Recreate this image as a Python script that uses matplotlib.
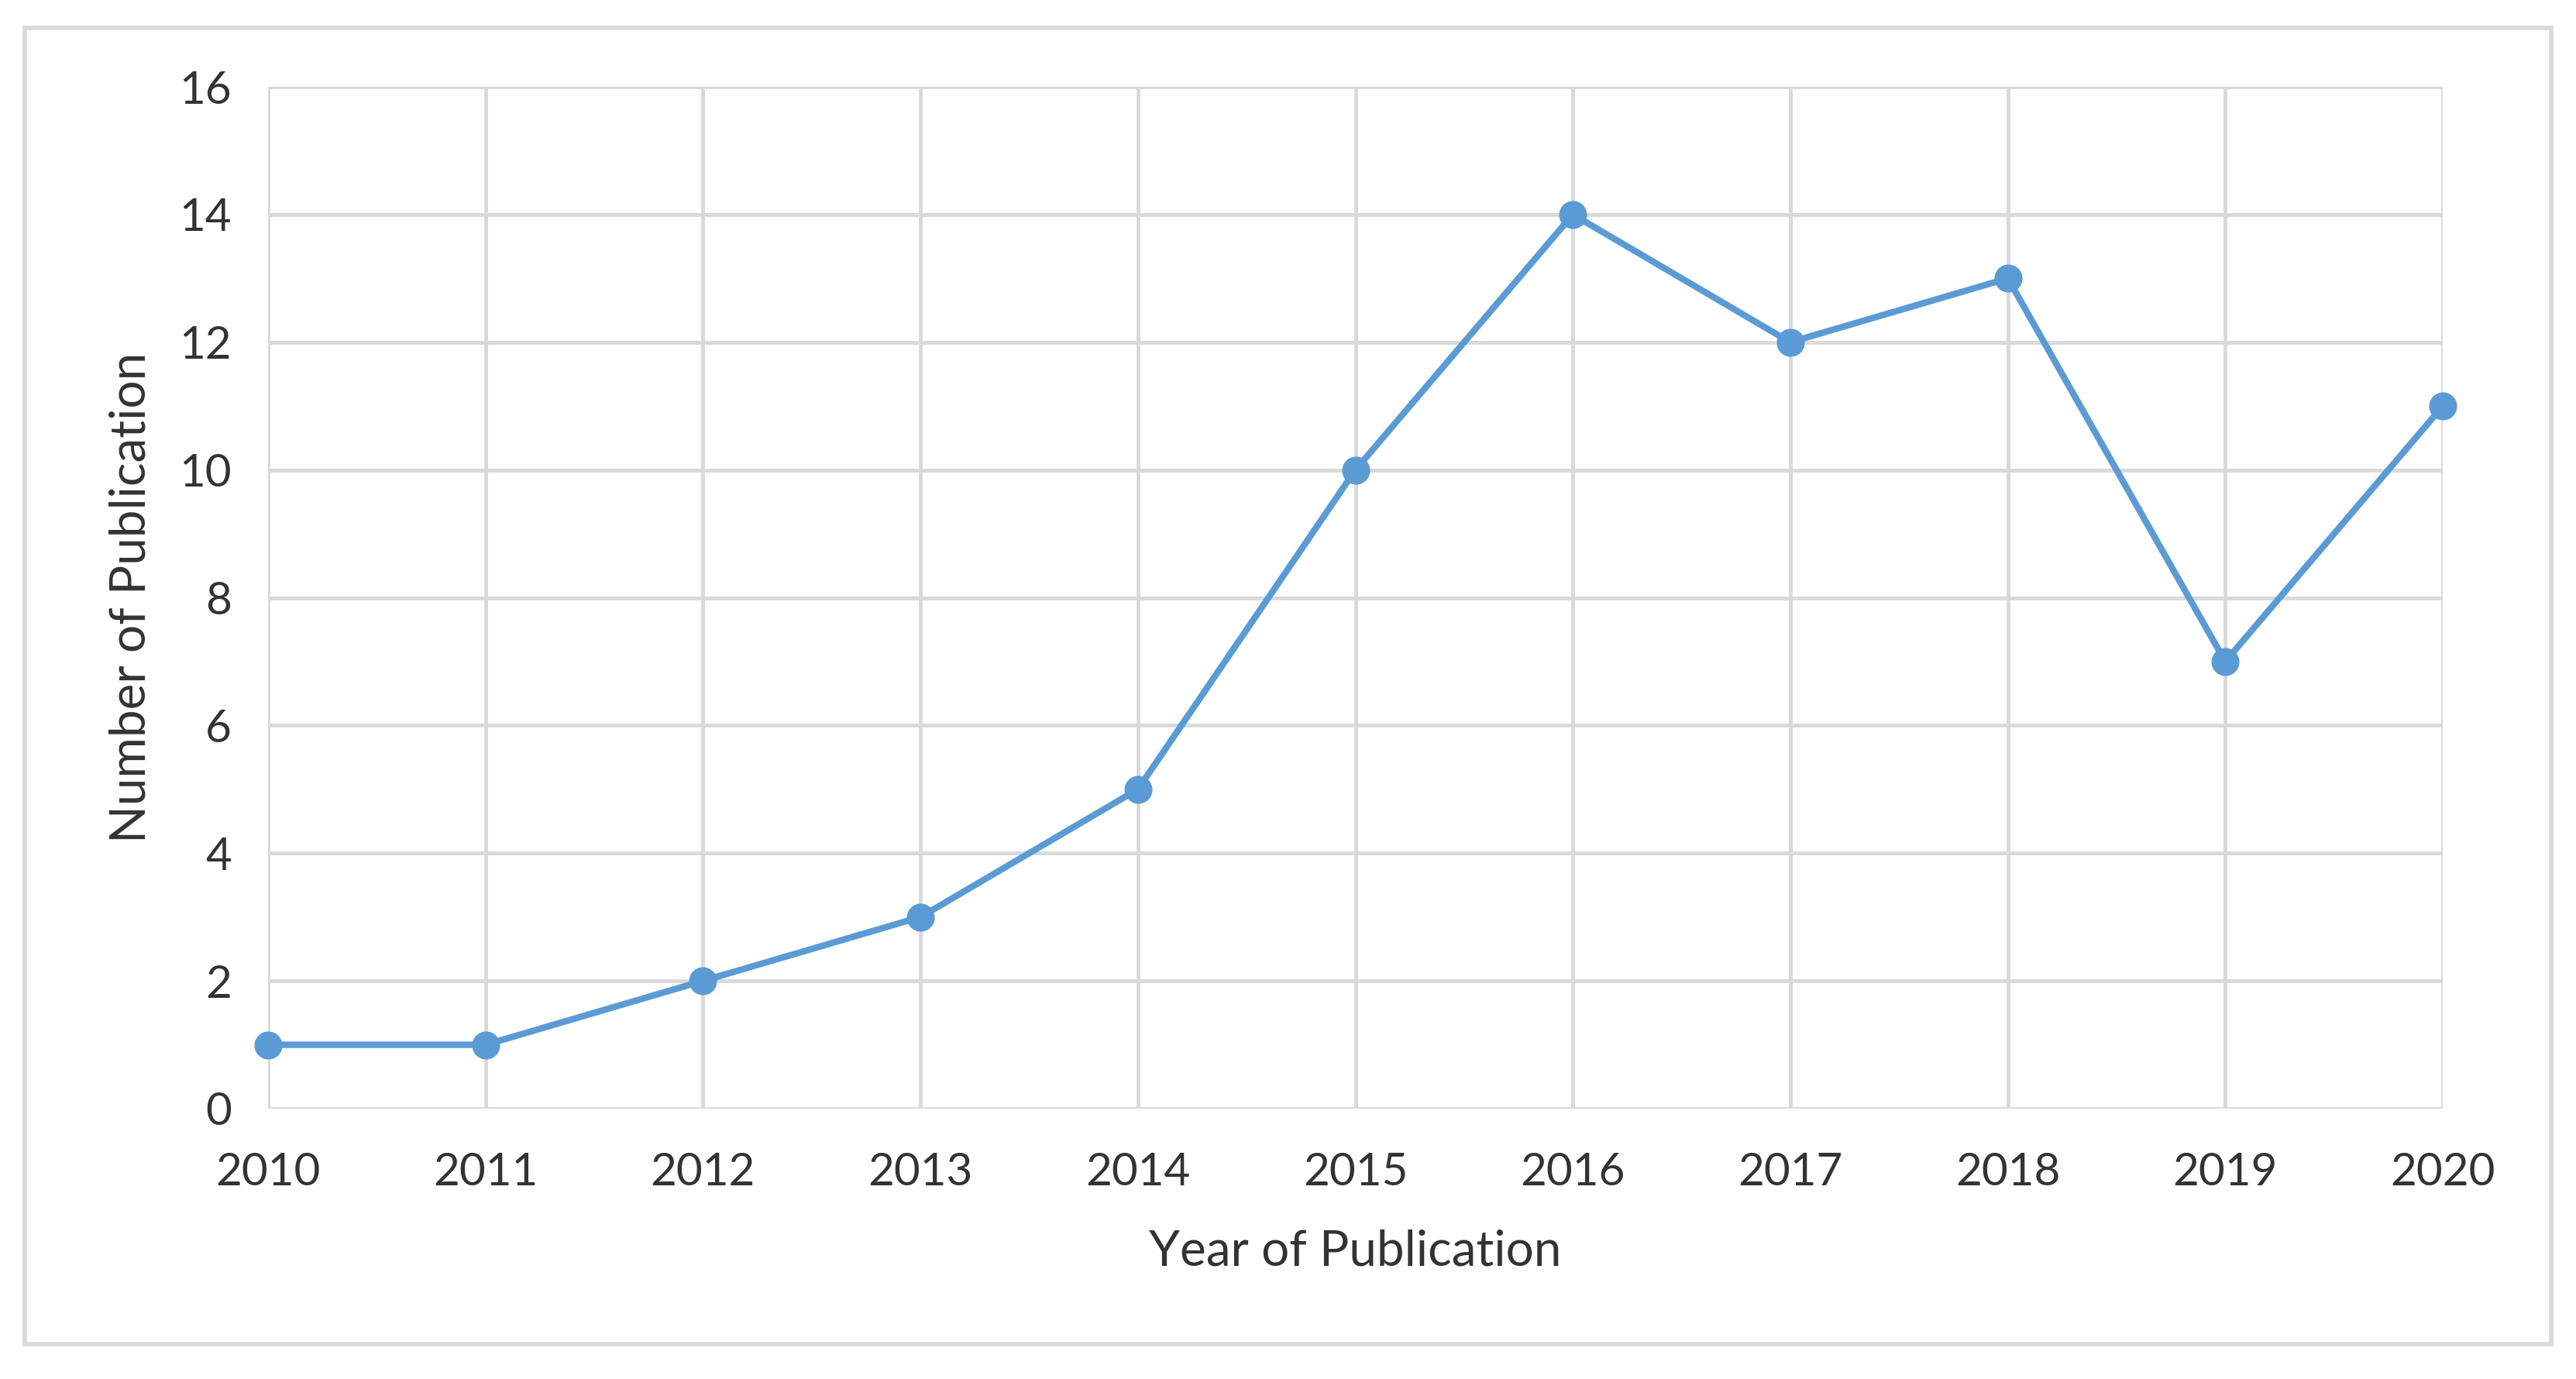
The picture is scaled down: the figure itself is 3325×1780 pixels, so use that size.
import matplotlib
matplotlib.use("Agg")
import matplotlib.pyplot as plt
from matplotlib.patches import Rectangle

# data
years = [2010, 2011, 2012, 2013, 2014, 2015, 2016, 2017, 2018, 2019, 2020]
publications = [1, 1, 2, 3, 5, 10, 14, 12, 13, 7, 11]
y_ticks = [0, 2, 4, 6, 8, 10, 12, 14, 16]

W, H = 3325, 1780
line_color = '#5B9BD5'
grid_color = '#D9D9D9'
text_color = '#333333'

plt.rcParams['font.family'] = ['Lato', 'DejaVu Sans']

fig = plt.figure(figsize=(W / 100, H / 100), dpi=100)
fig.patch.set_facecolor('white')

# outer chart border (Excel-style chart area)
fig.patches.append(Rectangle((32 / W, 1 - 1735 / H), (3293 - 32) / W, (1735 - 36) / H,
                             transform=fig.transFigure, fill=False,
                             edgecolor=grid_color, linewidth=4))

# plot area
left, right, top, bottom = 346, 3153, 112, 1431
ax = fig.add_axes([left / W, 1 - bottom / H, (right - left) / W, (bottom - top) / H])

ax.plot(years, publications, color=line_color, linewidth=6, marker='o',
        markersize=25, markerfacecolor=line_color, markeredgecolor=line_color,
        zorder=3, clip_on=False)

ax.set_xlim(years[0], years[-1])
ax.set_ylim(y_ticks[0], y_ticks[-1])
ax.set_xticks(years)
ax.set_yticks(y_ticks)

ax.grid(True, color=grid_color, linewidth=3.5)
ax.set_axisbelow(True)
for side in ['top', 'right', 'left', 'bottom']:
    ax.spines[side].set_visible(False)

ax.tick_params(axis='both', length=0, labelsize=42, labelcolor=text_color)
ax.tick_params(axis='x', pad=40)
ax.tick_params(axis='y', pad=34)

ax.set_xlabel('Year of Publication', fontsize=46, color=text_color, va='center')
ax.set_ylabel('Number of Publication', fontsize=46, color=text_color, va='center')
ax.xaxis.set_label_coords(0.5, (bottom - 1616) / (bottom - top))
ax.yaxis.set_label_coords((170 - left) / (right - left), 0.5)

fig.savefig('out.png', dpi=100)
